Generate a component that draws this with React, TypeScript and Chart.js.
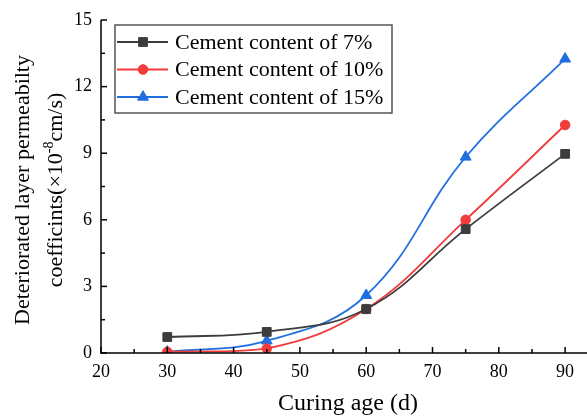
import React, { useEffect, useRef } from 'react';
import { Chart, registerables } from 'chart.js';

Chart.register(...registerables);

const curingAge = [30, 45, 60, 75, 90];
const cement7 = [0.72, 0.95, 1.98, 5.58, 8.97];
const cement10 = [0.05, 0.2, 1.98, 6.0, 10.27];
const cement15 = [0.05, 0.55, 2.6, 8.83, 13.25];
const seriesLabels = ['Cement content of 7%', 'Cement content of 10%', 'Cement content of 15%'];
const seriesColors = ['#3c3c3c', '#f23b3b', '#1f6fe0'];
const seriesMarkers = ['rect', 'circle', 'triangle'];
const seriesRadius = [6.2, 4.8, 6.3];
const xTicks = [20, 30, 40, 50, 60, 70, 80, 90];
const xMinorTicks = [25, 35, 45, 55, 65, 75, 85];
const yTicks = [0, 3, 6, 9, 12, 15];
const yMinorTicks = [1.5, 4.5, 7.5, 10.5, 13.5];
const xTitle = 'Curing age (d)';
const yTitle1 = 'Deteriorated layer permeabilty';
const yTitle2a = 'coefficints(×10';
const yTitle2sup = '-8';
const yTitle2b = 'cm/s)';

const FONT = '"Liberation Serif", "Times New Roman", serif';

const decorPlugin = {
  id: 'decor',
  afterDraw(chart: any) {
    const ctx = chart.ctx as CanvasRenderingContext2D;
    const xs = chart.scales.x;
    const ys = chart.scales.y;
    const area = chart.chartArea;
    ctx.save();
    // axis lines
    ctx.strokeStyle = '#000';
    ctx.lineWidth = 1.5;
    ctx.beginPath();
    ctx.moveTo(area.left, area.top);
    ctx.lineTo(area.left, area.bottom);
    ctx.lineTo(area.right, area.bottom);
    ctx.stroke();
    // inward ticks
    const drawX = (v: number, len: number) => {
      const px = xs.getPixelForValue(v);
      ctx.beginPath();
      ctx.moveTo(px, area.bottom);
      ctx.lineTo(px, area.bottom - len);
      ctx.stroke();
    };
    const drawY = (v: number, len: number) => {
      const py = ys.getPixelForValue(v);
      ctx.beginPath();
      ctx.moveTo(area.left, py);
      ctx.lineTo(area.left + len, py);
      ctx.stroke();
    };
    xTicks.forEach((v) => drawX(v, 6));
    xMinorTicks.forEach((v) => drawX(v, 4));
    yTicks.forEach((v) => drawY(v, 6));
    yMinorTicks.forEach((v) => drawY(v, 4));

    // tick labels
    ctx.fillStyle = '#000';
    ctx.font = `18px ${FONT}`;
    ctx.textAlign = 'center';
    ctx.textBaseline = 'middle';
    xTicks.forEach((v) => ctx.fillText(String(v), xs.getPixelForValue(v), area.bottom + 19));
    ctx.textAlign = 'right';
    yTicks.forEach((v) => ctx.fillText(String(v), area.left - 9, ys.getPixelForValue(v)));

    // legend box
    const bx = area.left + 14;
    const by = area.top + 5;
    const bw = 277;
    const bh = 88;
    ctx.fillStyle = '#ffffff';
    ctx.fillRect(bx, by, bw, bh);
    ctx.strokeStyle = '#555';
    ctx.lineWidth = 1.5;
    ctx.strokeRect(bx, by, bw, bh);
    chart.data.datasets.forEach((ds: any, i: number) => {
      const cy = by + 17 + i * 27.5;
      ctx.strokeStyle = ds.borderColor;
      ctx.lineWidth = 1.8;
      ctx.beginPath();
      ctx.moveTo(bx + 2, cy);
      ctx.lineTo(bx + 53, cy);
      ctx.stroke();
      ctx.fillStyle = ds.backgroundColor;
      ctx.strokeStyle = ds.borderColor;
      ctx.lineWidth = 1;
      const style = ds.pointStyle;
      const r = ds.pointRadius;
      const cx = bx + 28;
      ctx.beginPath();
      if (style === 'rect') {
        const s = Math.SQRT1_2 * r;
        ctx.rect(cx - s, cy - s, 2 * s, 2 * s);
      } else if (style === 'circle') {
        ctx.arc(cx, cy, r, 0, Math.PI * 2);
      } else {
        ctx.moveTo(cx, cy - r);
        ctx.lineTo(cx + r * Math.cos(Math.PI / 6), cy + r / 2);
        ctx.lineTo(cx - r * Math.cos(Math.PI / 6), cy + r / 2);
        ctx.closePath();
      }
      ctx.fill();
      ctx.stroke();
      ctx.fillStyle = '#000';
      ctx.font = `22px ${FONT}`;
      ctx.textAlign = 'left';
      ctx.textBaseline = 'middle';
      ctx.fillText(ds.label, bx + 60, cy + 1);
    });

    // x title
    ctx.fillStyle = '#000';
    ctx.font = `24px ${FONT}`;
    ctx.textAlign = 'center';
    ctx.textBaseline = 'middle';
    ctx.fillText(xTitle, 348, 404);

    // y title
    ctx.save();
    ctx.translate(23, 190);
    ctx.rotate(-Math.PI / 2);
    ctx.font = `22px ${FONT}`;
    ctx.textAlign = 'center';
    ctx.fillText(yTitle1, 0, 0);
    ctx.restore();

    ctx.save();
    ctx.translate(56, 190);
    ctx.rotate(-Math.PI / 2);
    ctx.font = `22px ${FONT}`;
    const w1 = ctx.measureText(yTitle2a).width;
    const w3 = ctx.measureText(yTitle2b).width;
    ctx.font = `14px ${FONT}`;
    const w2 = ctx.measureText(yTitle2sup).width;
    const total = w1 + w2 + w3;
    let x0 = -total / 2;
    ctx.textAlign = 'left';
    ctx.textBaseline = 'middle';
    ctx.font = `22px ${FONT}`;
    ctx.fillText(yTitle2a, x0, 0);
    x0 += w1;
    ctx.font = `14px ${FONT}`;
    ctx.fillText(yTitle2sup, x0, -7);
    x0 += w2;
    ctx.font = `22px ${FONT}`;
    ctx.fillText(yTitle2b, x0, 0);
    ctx.restore();

    ctx.restore();
  },
};

export default function App() {
  const ref = useRef<HTMLCanvasElement | null>(null);
  useEffect(() => {
    document.body.style.margin = '0';
    const canvas = ref.current;
    if (!canvas) return;
    const seriesValues = [cement7, cement10, cement15];
    const chart = new Chart(canvas, {
      type: 'line',
      data: {
        datasets: seriesValues.map((vals, i) => ({
          label: seriesLabels[i],
          data: vals.map((v, j) => ({ x: curingAge[j], y: v })),
          borderColor: seriesColors[i],
          backgroundColor: seriesColors[i],
          pointStyle: seriesMarkers[i] as any,
          pointRadius: seriesRadius[i],
          pointBorderWidth: 1,
          borderWidth: 1.8,
          tension: 0.4,
          fill: false,
        })),
      },
      options: {
        animation: false,
        responsive: false,
        maintainAspectRatio: false,
        layout: { autoPadding: false, padding: { top: 20, right: 0, left: 0, bottom: 0 } },
        plugins: {
          legend: { display: false },
          tooltip: { enabled: false },
        },
        scales: {
          x: {
            type: 'linear',
            min: 20,
            max: 93.3,
            afterBuildTicks: (s: any) => {
              s.ticks = xTicks.map((v) => ({ value: v }));
            },
            afterFit: (s: any) => {
              s.height = 65;
            },
            grid: { display: false, drawTicks: false },
            border: { display: false },
            ticks: { display: false },
          },
          y: {
            type: 'linear',
            min: 0,
            max: 15,
            afterBuildTicks: (s: any) => {
              s.ticks = yTicks.map((v) => ({ value: v }));
            },
            afterFit: (s: any) => {
              s.width = 101;
            },
            grid: { display: false, drawTicks: false },
            border: { display: false },
            ticks: { display: false },
          },
        },
      },
      plugins: [decorPlugin],
    });
    return () => chart.destroy();
  }, []);
  return (
    <div style={{ position: 'fixed', left: 0, top: 0, width: 587, height: 418, background: '#fff' }}>
      <canvas ref={ref} width={587} height={418} style={{ display: 'block' }} />
    </div>
  );
}
